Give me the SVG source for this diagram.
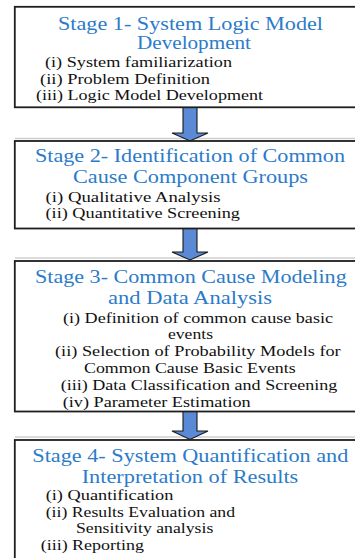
<svg xmlns="http://www.w3.org/2000/svg" width="355" height="558" viewBox="0 0 355 558">
<style>
.box{fill:#ffffff;stroke:#1e1e1e;stroke-width:1.8}
.shadow{stroke:#cfcfcf;stroke-width:1.6}
.arrow{fill:#5a8ad6;stroke:#1a1a1a;stroke-width:1.1;stroke-linejoin:miter}
</style>
<rect width="355" height="558" fill="#ffffff"/>
<g id="connectors">
<line class="shadow" x1="15" y1="138.5" x2="360" y2="138.5"/>
<line class="shadow" x1="15" y1="258" x2="360" y2="258"/>
<line class="shadow" x1="15" y1="437" x2="360" y2="437"/>
<path class="arrow" d="M183,107 L197,107 L197,133 L208,133 L190,141 L172,133 L183,133 Z"/>
<path class="arrow" d="M183,228 L197,228 L197,252 L208,252 L190,260 L172,252 L183,252 Z"/>
<path class="arrow" d="M183,411 L197,411 L197,431 L208,431 L190,439.5 L172,431 L183,431 Z"/>
</g>
<g id="stage1">
<rect class="box" x="14.8" y="6.8" width="350" height="100.5"/>
<g font-family="Liberation Serif" font-size="18.5" fill="#2b7bc9">
<text x="58" y="29.5" textLength="265" lengthAdjust="spacingAndGlyphs">Stage 1- System Logic Model</text>
<text x="137" y="49" textLength="114" lengthAdjust="spacingAndGlyphs">Development</text>
</g>
<g font-family="Liberation Serif" font-size="15" fill="#111111">
<text x="45" y="67" textLength="187" lengthAdjust="spacingAndGlyphs">(i) System familiarization</text>
<text x="40" y="83.5" textLength="170" lengthAdjust="spacingAndGlyphs">(ii) Problem Definition</text>
<text x="36" y="100" textLength="227" lengthAdjust="spacingAndGlyphs">(iii) Logic Model Development</text>
</g>
</g>
<g id="stage2">
<rect class="box" x="14.8" y="141" width="350" height="87.5"/>
<g font-family="Liberation Serif" font-size="18.5" fill="#2b7bc9">
<text x="35" y="161.5" textLength="310" lengthAdjust="spacingAndGlyphs">Stage 2- Identification of Common</text>
<text x="73" y="183" textLength="235" lengthAdjust="spacingAndGlyphs">Cause Component Groups</text>
</g>
<g font-family="Liberation Serif" font-size="15" fill="#111111">
<text x="45.5" y="201.5" textLength="175" lengthAdjust="spacingAndGlyphs">(i)  Qualitative Analysis</text>
<text x="45.5" y="218" textLength="194.5" lengthAdjust="spacingAndGlyphs">(ii) Quantitative Screening</text>
</g>
</g>
<g id="stage3">
<rect class="box" x="14.8" y="261" width="350" height="150.5"/>
<g font-family="Liberation Serif" font-size="18.5" fill="#2b7bc9">
<text x="35" y="283.3" textLength="311.7" lengthAdjust="spacingAndGlyphs">Stage 3- Common Cause Modeling</text>
<text x="108" y="304" textLength="164" lengthAdjust="spacingAndGlyphs">and Data Analysis</text>
</g>
<g font-family="Liberation Serif" font-size="15" fill="#111111">
<text x="63" y="323.3" textLength="270" lengthAdjust="spacingAndGlyphs">(i)  Definition of common cause basic</text>
<text x="168" y="338.5" textLength="45" lengthAdjust="spacingAndGlyphs">events</text>
<text x="55" y="356" textLength="285.7" lengthAdjust="spacingAndGlyphs">(ii)  Selection of Probability Models for</text>
<text x="84" y="372.7" textLength="211.7" lengthAdjust="spacingAndGlyphs">Common Cause Basic Events</text>
<text x="60.7" y="390" textLength="276.6" lengthAdjust="spacingAndGlyphs">(iii)  Data Classification and Screening</text>
<text x="62.7" y="406.5" textLength="188" lengthAdjust="spacingAndGlyphs">(iv)  Parameter Estimation</text>
</g>
</g>
<g id="stage4">
<rect class="box" x="14.8" y="440" width="350" height="130"/>
<g font-family="Liberation Serif" font-size="18.5" fill="#2b7bc9">
<text x="32.3" y="461.7" textLength="316" lengthAdjust="spacingAndGlyphs">Stage 4- System Quantification and</text>
<text x="81.7" y="482.7" textLength="216.6" lengthAdjust="spacingAndGlyphs">Interpretation of Results</text>
</g>
<g font-family="Liberation Serif" font-size="15" fill="#111111">
<text x="45.7" y="500" textLength="127.6" lengthAdjust="spacingAndGlyphs">(i) Quantification</text>
<text x="45.7" y="517" textLength="189.3" lengthAdjust="spacingAndGlyphs">(ii) Results Evaluation and</text>
<text x="76" y="533.3" textLength="137.3" lengthAdjust="spacingAndGlyphs">Sensitivity analysis</text>
<text x="40.7" y="550" textLength="103.3" lengthAdjust="spacingAndGlyphs">(iii) Reporting</text>
</g>
</g>
</svg>
